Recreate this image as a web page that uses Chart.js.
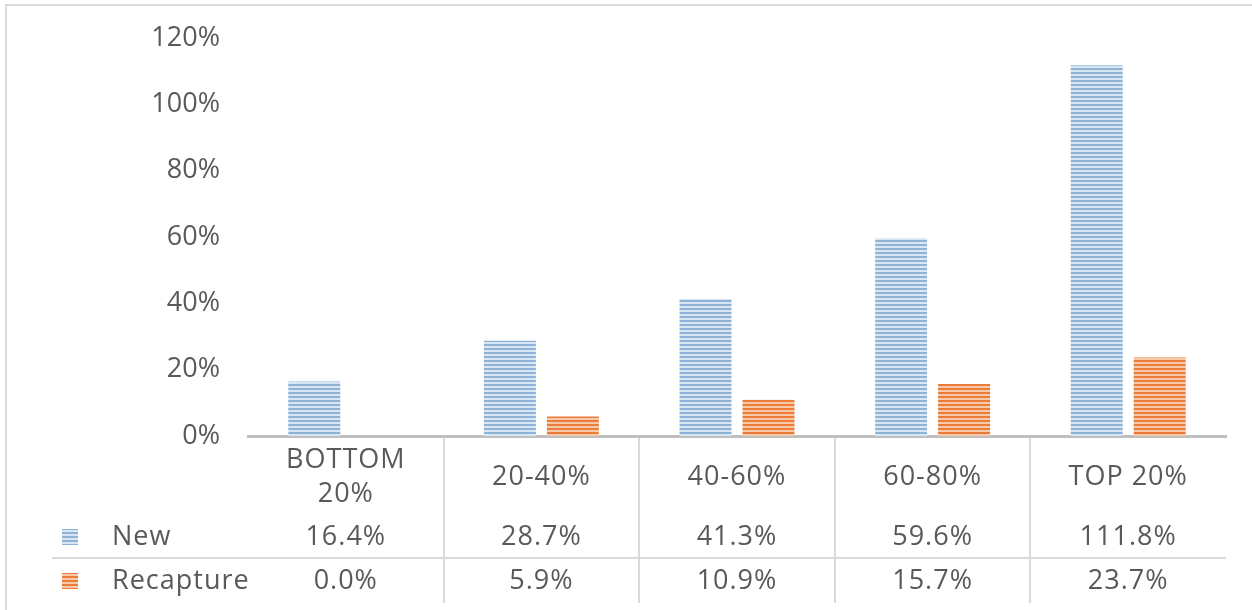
<!DOCTYPE html>
<html>
<head>
<meta charset="utf-8">
<script src="https://cdn.jsdelivr.net/npm/chart.js@4"></script>
<style>
  html, body { margin: 0; padding: 0; background: #ffffff; overflow: hidden; }
  #wrap { position: relative; width: 1252px; height: 610px; }
</style>
</head>
<body>
<div id="wrap"><canvas id="chart" width="1252" height="610"></canvas></div>
<script>
const categories = [["BOTTOM", "20%"], ["20-40%"], ["40-60%"], ["60-80%"], ["TOP 20%"]];
const newValues = [16.4, 28.7, 41.3, 59.6, 111.8];
const recaptureValues = [0.0, 5.9, 10.9, 15.7, 23.7];
const seriesNames = ["New", "Recapture"];
const yTickValues = [0, 20, 40, 60, 80, 100, 120];

const textColor = "#595959";
const lineColor = "#d9d9d9";
const fontFamily = "'Open Sans', 'Noto Sans', sans-serif";

const canvas = document.getElementById("chart");
const ctx = canvas.getContext("2d");

function stripePattern(dark, light) {
  const tile = document.createElement("canvas");
  tile.width = 4;
  tile.height = 4;
  const t = tile.getContext("2d");
  t.fillStyle = light;
  t.fillRect(0, 0, 4, 4);
  t.fillStyle = dark;
  t.fillRect(0, 0, 4, 2);
  return ctx.createPattern(tile, "repeat");
}

const bluePattern = stripePattern("#8fb3d7", "#d8e6f3");
const orangePattern = stripePattern("#eb7d3a", "#f7c9a8");
const fills = [bluePattern, orangePattern];

// outer frame
const framePlugin = {
  id: "frame",
  beforeDraw(chart) {
    const c = chart.ctx;
    c.save();
    c.strokeStyle = lineColor;
    c.lineWidth = 2;
    c.strokeRect(6, 5, 1400, 800);
    c.restore();
  },
};

// data table under the plot, drawn from the same arrays and x scale
const dataTablePlugin = {
  id: "dataTable",
  afterDraw(chart) {
    const c = chart.ctx;
    const xs = chart.scales.x;
    const area = chart.chartArea;
    const step = (area.right - area.left) / categories.length;
    const tableBottom = 603;
    const rowY = [537, 581];
    const sepY = 558;

    c.save();
    c.strokeStyle = lineColor;
    c.lineWidth = 2;
    for (let i = 1; i < categories.length; i++) {
      const x = Math.round(area.left + step * i);
      c.beginPath();
      c.moveTo(x, area.bottom + 2);
      c.lineTo(x, tableBottom);
      c.stroke();
    }
    c.beginPath();
    c.moveTo(52, sepY);
    c.lineTo(area.right, sepY);
    c.stroke();

    c.fillStyle = textColor;
    c.font = "27px " + fontFamily;
    c.letterSpacing = "1px";
    c.textAlign = "center";
    c.textBaseline = "middle";
    categories.forEach((lines, i) => {
      const x = xs.getPixelForValue(i);
      if (lines.length === 2) {
        c.fillText(lines[0], x, 460);
        c.fillText(lines[1], x, 494);
      } else {
        c.fillText(lines[0], x, 477);
      }
    });

    [newValues, recaptureValues].forEach((values, r) => {
      c.fillStyle = fills[r];
      c.fillRect(62, rowY[r] - 8, 16, 16);
      c.fillStyle = textColor;
      c.textAlign = "left";
      c.fillText(seriesNames[r], 112, rowY[r]);
      c.textAlign = "center";
      values.forEach((v, i) => {
        c.fillText(v.toFixed(1) + "%", xs.getPixelForValue(i), rowY[r]);
      });
    });
    c.restore();
  },
};

new Chart(canvas, {
  type: "bar",
  data: {
    labels: categories,
    datasets: [
      {
        label: seriesNames[0],
        data: newValues,
        backgroundColor: bluePattern,
        categoryPercentage: 0.644,
        barPercentage: 0.825,
      },
      {
        label: seriesNames[1],
        data: recaptureValues,
        backgroundColor: orangePattern,
        categoryPercentage: 0.644,
        barPercentage: 0.825,
      },
    ],
  },
  options: {
    responsive: false,
    animation: false,
    layout: {
      padding: { top: 38, right: 26, bottom: 174, left: 0 },
    },
    plugins: {
      legend: { display: false },
      tooltip: { enabled: false },
    },
    scales: {
      x: {
        grid: { display: false, drawTicks: false },
        ticks: { display: false },
        border: { display: true, color: "#bfbfbf", width: 3 },
        afterFit(axis) {
          axis.height = 0;
        },
      },
      y: {
        min: 0,
        max: 120,
        afterBuildTicks(axis) {
          axis.ticks = yTickValues.map((v) => ({ value: v }));
        },
        grid: { display: false, drawTicks: false },
        border: { display: false },
        ticks: {
          color: textColor,
          padding: 28,
          font: { family: fontFamily, size: 27 },
          callback: (v) => v + "%",
        },
        afterFit(axis) {
          axis.width = 248;
          axis.paddingTop = 0;
          axis.paddingBottom = 0;
        },
      },
    },
  },
  plugins: [framePlugin, dataTablePlugin],
});
</script>
</body>
</html>
